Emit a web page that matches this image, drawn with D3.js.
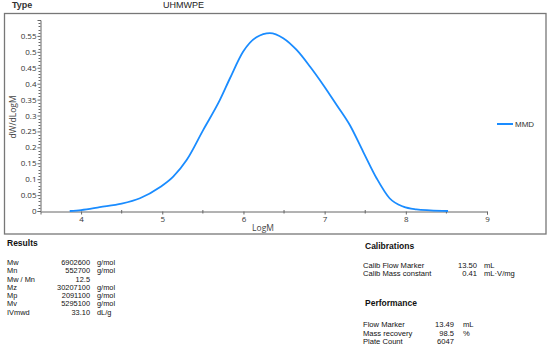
<!DOCTYPE html>
<html><head><meta charset="utf-8">
<script src="https://cdn.jsdelivr.net/npm/d3@7/dist/d3.min.js"></script>
<style>
body{margin:0;background:#fff;}
svg{display:block;font-family:"Liberation Sans",Arial,sans-serif;}
</style></head>
<body><svg id="c" width="554" height="353"></svg>
<script>
// ---- data ----
const logM = [3.86,4.00,4.23,4.50,4.725,4.97,5.135,5.30,5.505,5.71,5.834,5.997,6.16,6.326,6.49,6.655,6.819,6.983,7.148,7.31,7.475,7.64,7.80,7.97,8.13,8.30,8.52];
const mmd  = [0.000,0.003,0.012,0.023,0.040,0.0745,0.108,0.160,0.255,0.349,0.417,0.501,0.546,0.559,0.543,0.506,0.454,0.396,0.333,0.270,0.186,0.103,0.040,0.0135,0.005,0.002,0.000];
const xTicks = [4,5,6,7,8,9];
const yTicks = [0,0.05,0.1,0.15,0.2,0.25,0.3,0.35,0.4,0.45,0.5,0.55];
const resultNames = ["Mw","Mn","Mw / Mn","Mz","Mp","Mv","IVmwd"];
const resultValues = ["6902600","552700","12.5","30207100","2091100","5295100","33.10"];
const resultUnits = ["g/mol","g/mol","","g/mol","g/mol","g/mol","dL/g"];
const calibNames = ["Calib Flow Marker","Calib Mass constant"];
const calibValues = ["13.50","0.41"];
const calibUnits = ["mL","mL·V/mg"];
const perfNames = ["Flow Marker","Mass recovery","Plate Count"];
const perfValues = ["13.49","98.5","6047"];
const perfUnits = ["mL","%",""];

const svg = d3.select("#c");
const x = d3.scaleLinear().domain([3.5,9]).range([40.5,487]);
const y = d3.scaleLinear().domain([0,0.6]).range([211,20]);
const axisCol = "#666", txtCol = "#333";

// header
svg.append("text").attr("x",12).attr("y",8).attr("font-size",9).attr("font-weight","bold").attr("fill","#333").text("Type");
svg.append("text").attr("x",163).attr("y",8).attr("font-size",9).attr("fill","#222").text("UHMWPE");

// frame
svg.append("rect").attr("x",4.5).attr("y",13.5).attr("width",541.5).attr("height",220.5)
  .attr("fill","none").attr("stroke","#777").attr("stroke-width",1.3);

// y axis
const yAx = svg.append("g").attr("transform","translate(40.5,0)")
  .call(d3.axisLeft(y).tickValues(yTicks).tickSize(3).tickFormat(d=>String(+d.toFixed(2))));
yAx.select(".domain").attr("stroke",axisCol);
yAx.selectAll(".tick line").attr("stroke",axisCol);
yAx.selectAll(".tick text").attr("font-size",8).attr("fill",txtCol).attr("font-family","'Open Sans',sans-serif").attr("x",-4);
const yMinor = d3.range(0,60.5,1).map(v=>v/100).filter(v=>Math.round(v*100)%5!==0);
svg.append("g").selectAll("line").data(yMinor).join("line")
  .attr("x1",38.5).attr("x2",40.5).attr("y1",d=>Math.round(y(d))+0.5).attr("y2",d=>Math.round(y(d))+0.5).attr("stroke",axisCol);

// x axis
const xAx = svg.append("g").attr("transform","translate(0,211.5)")
  .call(d3.axisBottom(x).tickValues(xTicks).tickSize(3).tickFormat(d3.format("d")));
xAx.select(".domain").attr("stroke",axisCol);
xAx.selectAll(".tick line").attr("stroke",axisCol);
xAx.selectAll(".tick text").attr("font-size",8).attr("fill",txtCol).attr("font-family","'Open Sans',sans-serif").attr("y",5);
svg.append("g").selectAll("line").data([4.5,5.5,6.5,7.5,8.5]).join("line")
  .attr("x1",d=>x(d)).attr("x2",d=>x(d)).attr("y1",210).attr("y2",213.5).attr("stroke",axisCol);

// axis titles
svg.append("text").attr("transform","translate(16,117) rotate(-90)").attr("text-anchor","middle")
  .attr("font-size",8.5).attr("fill","#444").attr("font-family","'Open Sans',sans-serif").text("dW/dLogM");
svg.append("text").attr("x",263).attr("y",231).attr("text-anchor","middle")
  .attr("font-size",8.5).attr("fill","#444").attr("font-family","'Open Sans',sans-serif").text("LogM");

// curve
const line = d3.line().x((d,i)=>x(logM[i])).y(d=>y(d)).curve(d3.curveMonotoneX);
svg.append("path").datum(mmd).attr("d",line).attr("fill","none").attr("stroke","#1a8cff").attr("stroke-width",1.8);

// legend
svg.append("line").attr("x1",497).attr("x2",513).attr("y1",124).attr("y2",124).attr("stroke","#1a8cff").attr("stroke-width",2);
svg.append("text").attr("x",515).attr("y",127).attr("font-size",8).attr("fill","#333").text("MMD");

// results
svg.append("text").attr("x",7).attr("y",246).attr("font-size",8.5).attr("font-weight","bold").attr("fill","#111").text("Results");
const rg = svg.append("g").attr("font-size",7.4).attr("fill","#111");
resultNames.forEach((n,i)=>{
  const yy = 265.2 + i*8.25;
  rg.append("text").attr("x",7).attr("y",yy).text(n);
  rg.append("text").attr("x",90).attr("y",yy).attr("text-anchor","end").text(resultValues[i]);
  rg.append("text").attr("x",97).attr("y",yy).text(resultUnits[i]);
});

// calibrations
svg.append("text").attr("x",365).attr("y",249).attr("font-size",8.5).attr("font-weight","bold").attr("fill","#111").text("Calibrations");
const cg = svg.append("g").attr("font-size",7.6).attr("fill","#111");
calibNames.forEach((n,i)=>{
  const yy = 267.8 + i*8.4;
  cg.append("text").attr("x",363).attr("y",yy).text(n);
  cg.append("text").attr("x",477).attr("y",yy).attr("text-anchor","end").text(calibValues[i]);
  cg.append("text").attr("x",484).attr("y",yy).text(calibUnits[i]);
});

// performance
svg.append("text").attr("x",365).attr("y",306).attr("font-size",8.5).attr("font-weight","bold").attr("fill","#111").text("Performance");
const pg = svg.append("g").attr("font-size",7.6).attr("fill","#111");
perfNames.forEach((n,i)=>{
  const yy = 327.3 + i*8.4;
  pg.append("text").attr("x",363).attr("y",yy).text(n);
  pg.append("text").attr("x",454).attr("y",yy).attr("text-anchor","end").text(perfValues[i]);
  pg.append("text").attr("x",463).attr("y",yy).text(perfUnits[i]);
});
</script></body></html>
